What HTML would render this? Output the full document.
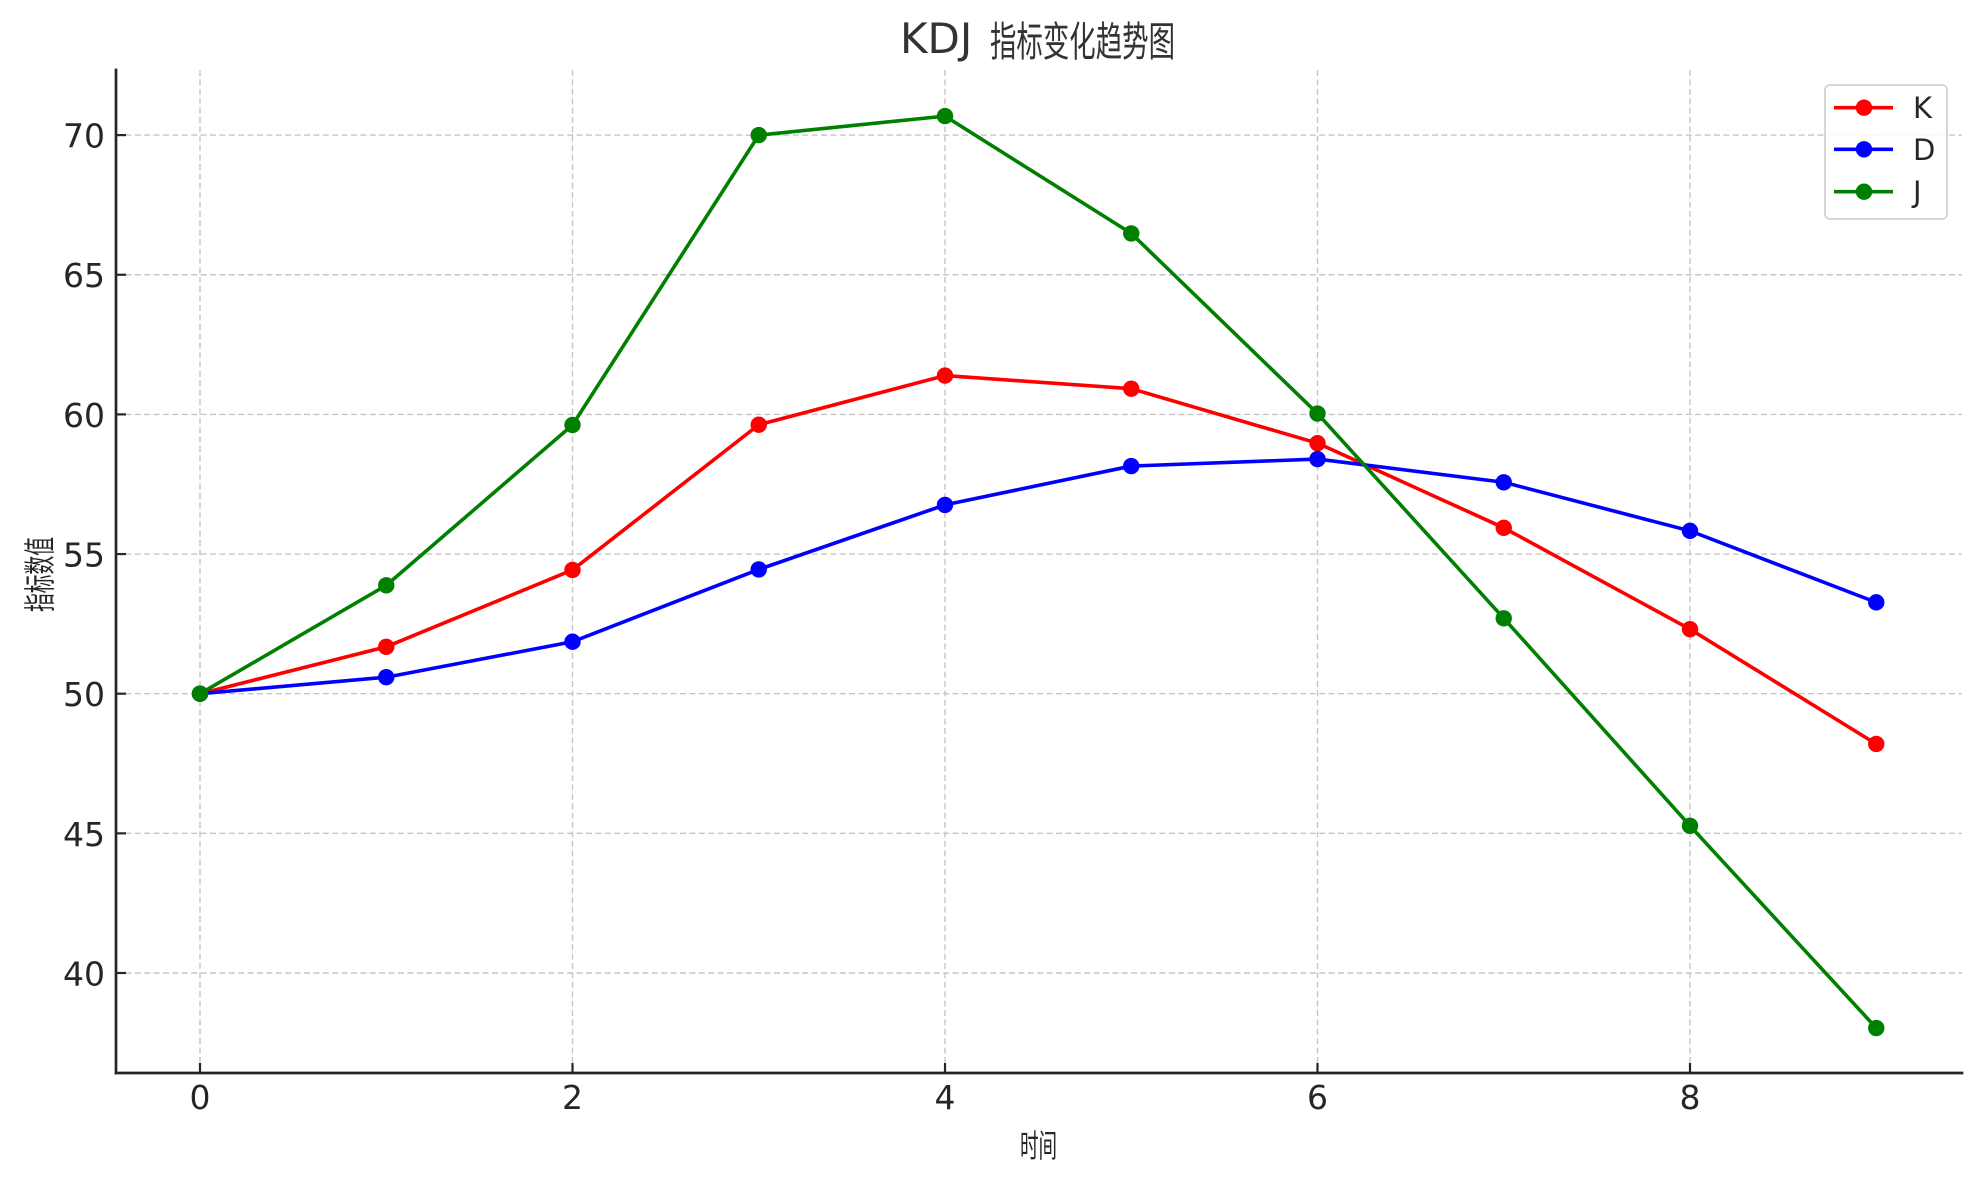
<!DOCTYPE html>
<html>
<head>
<meta charset="utf-8">
<style>
  html, body { margin: 0; padding: 0; background: #ffffff; }
  body { width: 1980px; height: 1180px; overflow: hidden; }
  svg { display: block; }
  text { font-family: "DejaVu Sans", "Liberation Sans", "Noto Sans CJK SC", sans-serif; fill: #262626; }
</style>
</head>
<body>
<svg width="1980" height="1180" viewBox="0 0 1980 1180" xmlns="http://www.w3.org/2000/svg">
  <rect x="0" y="0" width="1980" height="1180" fill="#ffffff"/>

  <!-- grid -->
  <g stroke="#c6c6c6" stroke-width="1.4" stroke-dasharray="6,3.4" fill="none">
    <line x1="116" y1="973.0" x2="1962" y2="973.0"/>
    <line x1="116" y1="833.35" x2="1962" y2="833.35"/>
    <line x1="116" y1="693.7" x2="1962" y2="693.7"/>
    <line x1="116" y1="554.05" x2="1962" y2="554.05"/>
    <line x1="116" y1="414.4" x2="1962" y2="414.4"/>
    <line x1="116" y1="274.75" x2="1962" y2="274.75"/>
    <line x1="116" y1="135.1" x2="1962" y2="135.1"/>
    <line x1="200" y1="70" x2="200" y2="1073"/>
    <line x1="572.5" y1="70" x2="572.5" y2="1073"/>
    <line x1="945" y1="70" x2="945" y2="1073"/>
    <line x1="1317.5" y1="70" x2="1317.5" y2="1073"/>
    <line x1="1690" y1="70" x2="1690" y2="1073"/>
  </g>

  <!-- K series -->
  <g>
    <polyline fill="none" stroke="#ff0000" stroke-width="3.6" stroke-linejoin="round" stroke-linecap="round"
      points="200,693.7 386.25,646.78 572.5,569.97 758.75,424.74 945,375.58 1131.25,388.7 1317.5,443.17 1503.75,527.8 1690,629.18 1876.25,743.97"/>
    <g fill="#ff0000">
      <circle cx="200" cy="693.7" r="8.2"/>
      <circle cx="386.25" cy="646.78" r="8.2"/>
      <circle cx="572.5" cy="569.97" r="8.2"/>
      <circle cx="758.75" cy="424.74" r="8.2"/>
      <circle cx="945" cy="375.58" r="8.2"/>
      <circle cx="1131.25" cy="388.7" r="8.2"/>
      <circle cx="1317.5" cy="443.17" r="8.2"/>
      <circle cx="1503.75" cy="527.8" r="8.2"/>
      <circle cx="1690" cy="629.18" r="8.2"/>
      <circle cx="1876.25" cy="743.97" r="8.2"/>
    </g>
  </g>

  <!-- D series -->
  <g>
    <polyline fill="none" stroke="#0000ff" stroke-width="3.6" stroke-linejoin="round" stroke-linecap="round"
      points="200,693.7 386.25,677.22 572.5,641.75 758.75,569.41 945,504.89 1131.25,466.07 1317.5,459.09 1503.75,482.27 1690,530.87 1876.25,602.37"/>
    <g fill="#0000ff">
      <circle cx="200" cy="693.7" r="8.2"/>
      <circle cx="386.25" cy="677.22" r="8.2"/>
      <circle cx="572.5" cy="641.75" r="8.2"/>
      <circle cx="758.75" cy="569.41" r="8.2"/>
      <circle cx="945" cy="504.89" r="8.2"/>
      <circle cx="1131.25" cy="466.07" r="8.2"/>
      <circle cx="1317.5" cy="459.09" r="8.2"/>
      <circle cx="1503.75" cy="482.27" r="8.2"/>
      <circle cx="1690" cy="530.87" r="8.2"/>
      <circle cx="1876.25" cy="602.37" r="8.2"/>
    </g>
  </g>

  <!-- J series -->
  <g>
    <polyline fill="none" stroke="#008000" stroke-width="3.6" stroke-linejoin="round" stroke-linecap="round"
      points="200,693.7 386.25,585.33 572.5,425.01 758.75,135.1 945,116.11 1131.25,233.41 1317.5,413.56 1503.75,618.29 1690,825.81 1876.25,1028.02"/>
    <g fill="#008000">
      <circle cx="200" cy="693.7" r="8.2"/>
      <circle cx="386.25" cy="585.33" r="8.2"/>
      <circle cx="572.5" cy="425.01" r="8.2"/>
      <circle cx="758.75" cy="135.1" r="8.2"/>
      <circle cx="945" cy="116.11" r="8.2"/>
      <circle cx="1131.25" cy="233.41" r="8.2"/>
      <circle cx="1317.5" cy="413.56" r="8.2"/>
      <circle cx="1503.75" cy="618.29" r="8.2"/>
      <circle cx="1690" cy="825.81" r="8.2"/>
      <circle cx="1876.25" cy="1028.02" r="8.2"/>
    </g>
  </g>

  <!-- spines -->
  <g stroke="#262626" stroke-width="2.7" fill="none" stroke-linecap="square">
    <line x1="116" y1="70" x2="116" y2="1073"/>
    <line x1="116" y1="1073" x2="1962" y2="1073"/>
  </g>

  <!-- ticks (inward) -->
  <g stroke="#262626" stroke-width="2.2">
    <line x1="116" y1="973.0" x2="126" y2="973.0"/>
    <line x1="116" y1="833.35" x2="126" y2="833.35"/>
    <line x1="116" y1="693.7" x2="126" y2="693.7"/>
    <line x1="116" y1="554.05" x2="126" y2="554.05"/>
    <line x1="116" y1="414.4" x2="126" y2="414.4"/>
    <line x1="116" y1="274.75" x2="126" y2="274.75"/>
    <line x1="116" y1="135.1" x2="126" y2="135.1"/>
    <line x1="200" y1="1073" x2="200" y2="1063"/>
    <line x1="572.5" y1="1073" x2="572.5" y2="1063"/>
    <line x1="945" y1="1073" x2="945" y2="1063"/>
    <line x1="1317.5" y1="1073" x2="1317.5" y2="1063"/>
    <line x1="1690" y1="1073" x2="1690" y2="1063"/>
  </g>

  <!-- y tick labels -->
  <g font-size="33" text-anchor="end">
    <text x="105" y="985.5">40</text>
    <text x="105" y="845.8">45</text>
    <text x="105" y="706.2">50</text>
    <text x="105" y="566.5">55</text>
    <text x="105" y="426.9">60</text>
    <text x="105" y="287.2">65</text>
    <text x="105" y="147.6">70</text>
  </g>

  <!-- x tick labels -->
  <g font-size="33" text-anchor="middle">
    <text x="200" y="1109">0</text>
    <text x="572.5" y="1109">2</text>
    <text x="945" y="1109">4</text>
    <text x="1317.5" y="1109">6</text>
    <text x="1690" y="1109">8</text>
  </g>

  <!-- axis labels -->
  <text x="1020" y="1157" font-size="32" textLength="37" lengthAdjust="spacingAndGlyphs">时间</text>
  <text transform="translate(51,612) rotate(-90)" x="0" y="0" font-size="32" textLength="75" lengthAdjust="spacingAndGlyphs">指标数值</text>

  <!-- title -->
  <text x="900" y="53" font-size="42" style="fill:#333333">KDJ</text>
  <text x="990" y="56" font-size="41" textLength="185" lengthAdjust="spacingAndGlyphs" style="fill:#333333">指标变化趋势图</text>

  <!-- legend -->
  <rect x="1825" y="85" width="122" height="134" rx="5" ry="5" fill="#ffffff" fill-opacity="0.85" stroke="#d6d6d6" stroke-width="2"/>
  <g stroke-width="3.6">
    <line x1="1834" y1="107.7" x2="1893" y2="107.7" stroke="#ff0000"/>
    <line x1="1834" y1="149.3" x2="1893" y2="149.3" stroke="#0000ff"/>
    <line x1="1834" y1="191.7" x2="1893" y2="191.7" stroke="#008000"/>
  </g>
  <circle cx="1864" cy="107.7" r="8.2" fill="#ff0000"/>
  <circle cx="1864" cy="149.3" r="8.2" fill="#0000ff"/>
  <circle cx="1864" cy="191.7" r="8.2" fill="#008000"/>
  <g font-size="29">
    <text x="1913" y="118">K</text>
    <text x="1913" y="160">D</text>
    <text x="1913" y="202">J</text>
  </g>
</svg>
</body>
</html>
